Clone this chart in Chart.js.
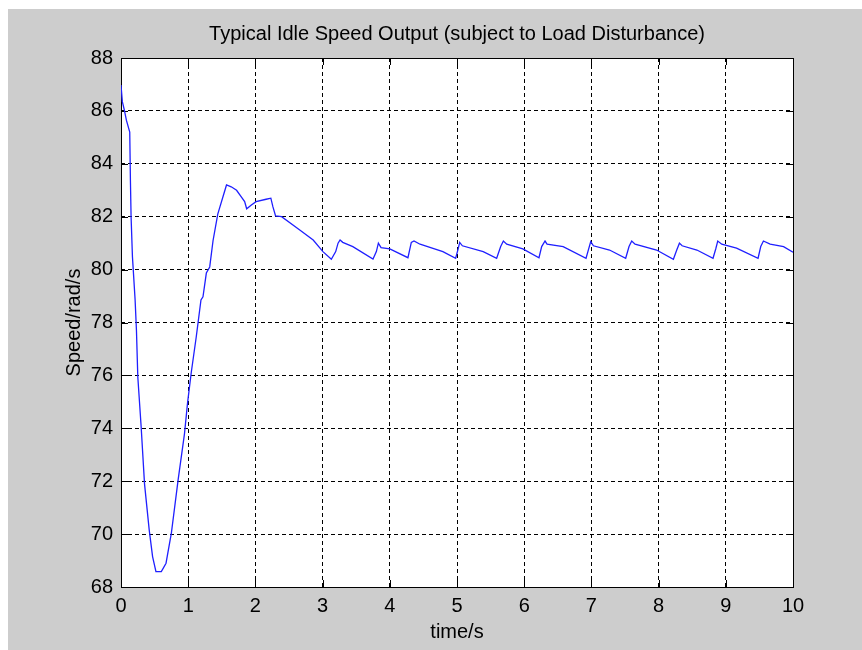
<!DOCTYPE html>
<html>
<head>
<meta charset="utf-8">
<script src="https://cdn.jsdelivr.net/npm/chart.js@4.4.1/dist/chart.umd.min.js"></script>
<style>
html,body{margin:0;padding:0;background:#ffffff;}
canvas{display:block;}
</style>
</head>
<body>
<canvas id="c" width="862" height="650"></canvas>
<script>
const chartTitle = 'Typical Idle Speed Output (subject to Load Disturbance)';
const xTitle = 'time/s';
const yTitle = 'Speed/rad/s';
const xTicks = [0,1,2,3,4,5,6,7,8,9,10];
const yTicks = [68,70,72,74,76,78,80,82,84,86,88];

const timeS = [
  0, 0.02, 0.05, 0.08, 0.13, 0.14, 0.15, 0.17, 0.21, 0.23, 0.25, 0.30, 0.35, 0.42, 0.47, 0.52,
  0.60, 0.67, 0.75, 0.85, 0.945, 0.99, 1.045, 1.12, 1.19, 1.22, 1.27, 1.32, 1.37, 1.44, 1.57,
  1.64, 1.72, 1.79, 1.84, 1.87, 1.94, 2.01, 2.16, 2.23, 2.26, 2.30, 2.39, 2.66, 2.86,
  3.005, 3.13, 3.195, 3.23, 3.26, 3.30, 3.45, 3.75, 3.80, 3.83, 3.87, 4.0, 4.27, 4.32, 4.36,
  4.45, 4.79, 4.98, 5.02, 5.04, 5.08, 5.39, 5.59, 5.65, 5.69, 5.74, 5.98, 6.22, 6.26, 6.31,
  6.34, 6.58, 6.92, 6.95, 6.99, 7.03, 7.27, 7.51, 7.56, 7.60, 7.65, 7.97, 8.22, 8.27, 8.31,
  8.35, 8.57, 8.81, 8.85, 8.88, 8.94, 9.16, 9.48, 9.52, 9.56, 9.66, 9.86, 10.0
];
const speed = [
  86.98, 86.35, 86.03, 85.65, 85.2, 83.4, 82.0, 80.5, 78.85, 77.7, 75.95, 74.05, 71.9, 70.15, 69.15, 68.58,
  68.58, 68.9, 70.05, 72.05, 73.8, 74.95, 76.1, 77.46, 78.85, 78.97, 79.87, 80.1, 81.1, 82.1, 83.2,
  83.13, 83.0, 82.75, 82.57, 82.3, 82.44, 82.57, 82.66, 82.7, 82.38, 82.03, 82.0, 81.5, 81.12,
  80.68, 80.39, 80.68, 81.0, 81.12, 81.03, 80.87, 80.4, 80.68, 81.0, 80.83, 80.78, 80.45, 81.03, 81.08,
  80.96, 80.68, 80.43, 80.81, 81.03, 80.9, 80.68, 80.43, 80.87, 81.08, 80.96, 80.78, 80.45, 80.87, 81.08,
  80.96, 80.87, 80.43, 80.70, 81.06, 80.9, 80.74, 80.43, 80.87, 81.08, 80.96, 80.74, 80.39, 80.74, 81.0,
  80.9, 80.74, 80.43, 80.78, 81.08, 80.96, 80.81, 80.43, 80.87, 81.08, 80.96, 80.87, 80.66
];

const FONT = '"Liberation Sans", Arial, sans-serif';
const GRAY = '#cdcdcd';

const framePlugin = {
  id: 'frame',
  beforeDraw(chart) {
    const ctx = chart.ctx, a = chart.chartArea;
    ctx.save();
    ctx.fillStyle = '#ffffff';
    ctx.fillRect(0, 0, chart.width, chart.height);
    ctx.fillStyle = GRAY;
    ctx.fillRect(8, 9, chart.width - 8, chart.height - 9);
    ctx.fillStyle = '#ffffff';
    ctx.fillRect(a.left, a.top, a.right - a.left, a.bottom - a.top);
    ctx.restore();
  },
  beforeDatasetsDraw(chart) {
    const ctx = chart.ctx, a = chart.chartArea;
    const xs = chart.scales.x, ys = chart.scales.y;
    const L = 7;
    ctx.save();
    ctx.strokeStyle = '#000000';
    ctx.lineWidth = 1;
    ctx.setLineDash([]);
    ctx.beginPath();
    xTicks.forEach(v => {
      const px = Math.round(xs.getPixelForValue(v)) + 0.5;
      ctx.moveTo(px, a.bottom); ctx.lineTo(px, a.bottom - L);
      ctx.moveTo(px, a.top); ctx.lineTo(px, a.top + L);
    });
    yTicks.forEach(v => {
      const py = Math.round(ys.getPixelForValue(v)) + 0.5;
      ctx.moveTo(a.left, py); ctx.lineTo(a.left + L, py);
      ctx.moveTo(a.right, py); ctx.lineTo(a.right - L, py);
    });
    ctx.stroke();
    ctx.strokeRect(Math.round(a.left) + 0.5, Math.round(a.top) + 0.5,
                   Math.round(a.right - a.left), Math.round(a.bottom - a.top));
    ctx.restore();
  }
};

new Chart(document.getElementById('c'), {
  type: 'line',
  data: {
    datasets: [{
      data: timeS.map((t, i) => ({x: t, y: speed[i]})),
      borderColor: '#1f1fff',
      borderWidth: 1.3,
      pointRadius: 0,
      tension: 0,
      fill: false
    }]
  },
  options: {
    responsive: false,
    animation: false,
    devicePixelRatio: 1,
    layout: { padding: { left: 0, right: 69, top: 0, bottom: 0 } },
    plugins: {
      legend: { display: false },
      tooltip: { enabled: false },
      title: {
        display: true,
        fullSize: false,
        text: chartTitle,
        color: '#000000',
        font: { family: FONT, size: 20, weight: 'normal', lineHeight: 1.2 },
        padding: { top: 22, bottom: 12 }
      }
    },
    scales: {
      x: {
        type: 'linear',
        min: 0, max: 10,
        afterFit(s) { s.height = 63; },
        afterBuildTicks(s) { s.ticks = xTicks.map(v => ({value: v})); },
        ticks: { color: '#000000', padding: 7, font: { family: FONT, size: 20 }, maxRotation: 0 },
        grid: { color: '#000000', drawTicks: false, lineWidth: 1 },
        border: { display: false, dash: [4, 3] },
        title: { display: true, text: xTitle, color: '#000000', font: { family: FONT, size: 20 }, padding: { top: 0, bottom: 6 } }
      },
      y: {
        type: 'linear',
        min: 68, max: 88,
        afterFit(s) { s.width = 121; },
        afterBuildTicks(s) { s.ticks = yTicks.map(v => ({value: v})); },
        ticks: { color: '#000000', padding: 8, font: { family: FONT, size: 20 } },
        grid: { color: '#000000', drawTicks: false, lineWidth: 1 },
        border: { display: false, dash: [4, 3] },
        title: { display: true, text: yTitle, color: '#000000', font: { family: FONT, size: 20 }, padding: { top: 62, bottom: 0 } }
      }
    }
  },
  plugins: [framePlugin]
});
</script>
</body>
</html>
